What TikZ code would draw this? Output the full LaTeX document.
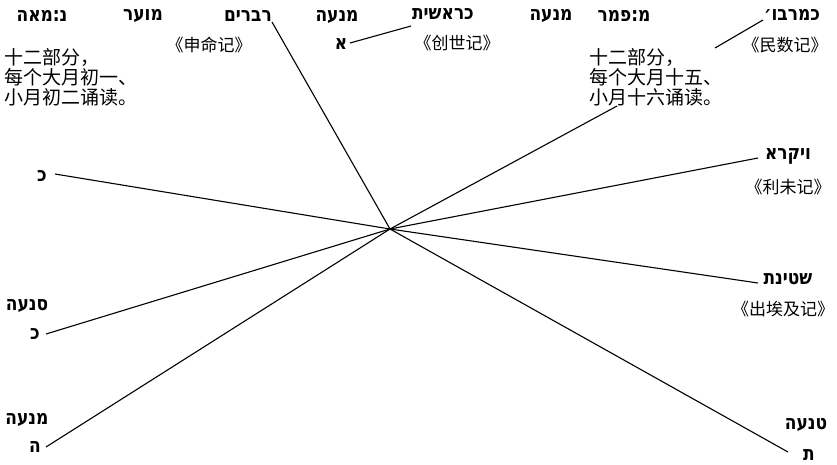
\documentclass[tikz,border=0pt]{standalone}
\usepackage{fontspec}
\newfontfamily\hebfont[Script=Hebrew,FakeStretch=0.85]{DejaVu Sans}
\newfontfamily\cjkfont{Noto Sans CJK SC}
\TeXXeTstate=1
\begin{document}
\begin{tikzpicture}[x=1pt,y=-1pt,
  heb/.style={font=\hebfont\bfseries\fontsize{20}{20}\selectfont, inner sep=0pt},
  book/.style={font=\cjkfont\fontsize{17}{17}\selectfont, inner sep=0pt},
  note/.style={font=\cjkfont\fontsize{19}{20}\selectfont, inner sep=0pt, align=left, anchor=west},
  link/.style={line width=1.1pt}]
\useasboundingbox[fill=white] (0,0) rectangle (837,464);
% top row
\node[heb] (n1) at (42,16) {\beginR נ:מאה\endR};
\node[heb] (n2) at (143,16) {\beginR מוער\endR};
\node[heb] (n3) at (248,16) {\beginR רברים\endR};
\node[heb] (n4) at (337,17) {\beginR מנעה\endR};
\node[heb] (n4b) at (341,44) {\beginR א\endR};
\node[heb] (n5) at (443,14) {\beginR כראשית\endR};
\node[heb] (n6) at (551,16) {\beginR מנעה\endR};
\node[heb] (n7) at (624,16) {\beginR מ:פמר\endR};
\node[heb] (n8) at (792,15) {\beginR כמרבו׳\endR};
\node[book] (b1) at (209,45) {《申命记》};
\node[book] (b2) at (457,43) {《创世记》};
\node[book] (b3) at (785,45) {《民数记》};
\node[note] (t1) at (4,77) {十二部分，\\每个大月初一、\\小月初二诵读。};
\node[note] (t2) at (589,77) {十二部分，\\每个大月十五、\\小月十六诵读。};
% right side
\node[heb] (n9) at (788,156) {\beginR ויקרא\endR};
\node[book] (b4) at (788,187) {《利未记》};
\node[heb] (n10) at (788,279) {\beginR שטינת\endR};
\node[book] (b5) at (783,309) {《出埃及记》};
\node[heb] (n14) at (806,425) {\beginR טנעה\endR};
\node[heb] (n14b) at (809,455) {\beginR ת\endR};
% left side
\node[heb] (n11) at (42,176) {\beginR כ\endR};
\node[heb] (n12) at (27,306) {\beginR סנעה\endR};
\node[heb] (n12b) at (35,334) {\beginR כ\endR};
\node[heb] (n13) at (27,420) {\beginR מנעה\endR};
\node[heb] (n13b) at (35,447) {\beginR ה\endR};
% connector ends
\coordinate (c) at (390,229);
\coordinate (p1) at (272,22);
\coordinate (p2a) at (350,43);
\coordinate (p2b) at (411,26);
\coordinate (p3a) at (715,48);
\coordinate (p3b) at (763,20);
\coordinate (p4) at (617,106);
\coordinate (p5) at (758,158);
\coordinate (p6) at (55,174);
\coordinate (p7) at (758,283);
\coordinate (p8) at (46,334);
\coordinate (p9) at (46,447);
\coordinate (p10) at (788,452);
\draw[link] (p1) -- (c);
\draw[link] (p2a) -- (p2b);
\draw[link] (p3a) -- (p3b);
\draw[link] (p4) -- (c);
\draw[link] (p5) -- (c);
\draw[link] (p6) -- (c);
\draw[link] (p7) -- (c);
\draw[link] (p8) -- (c);
\draw[link] (p9) -- (c);
\draw[link] (p10) -- (c);
\end{tikzpicture}
\end{document}
